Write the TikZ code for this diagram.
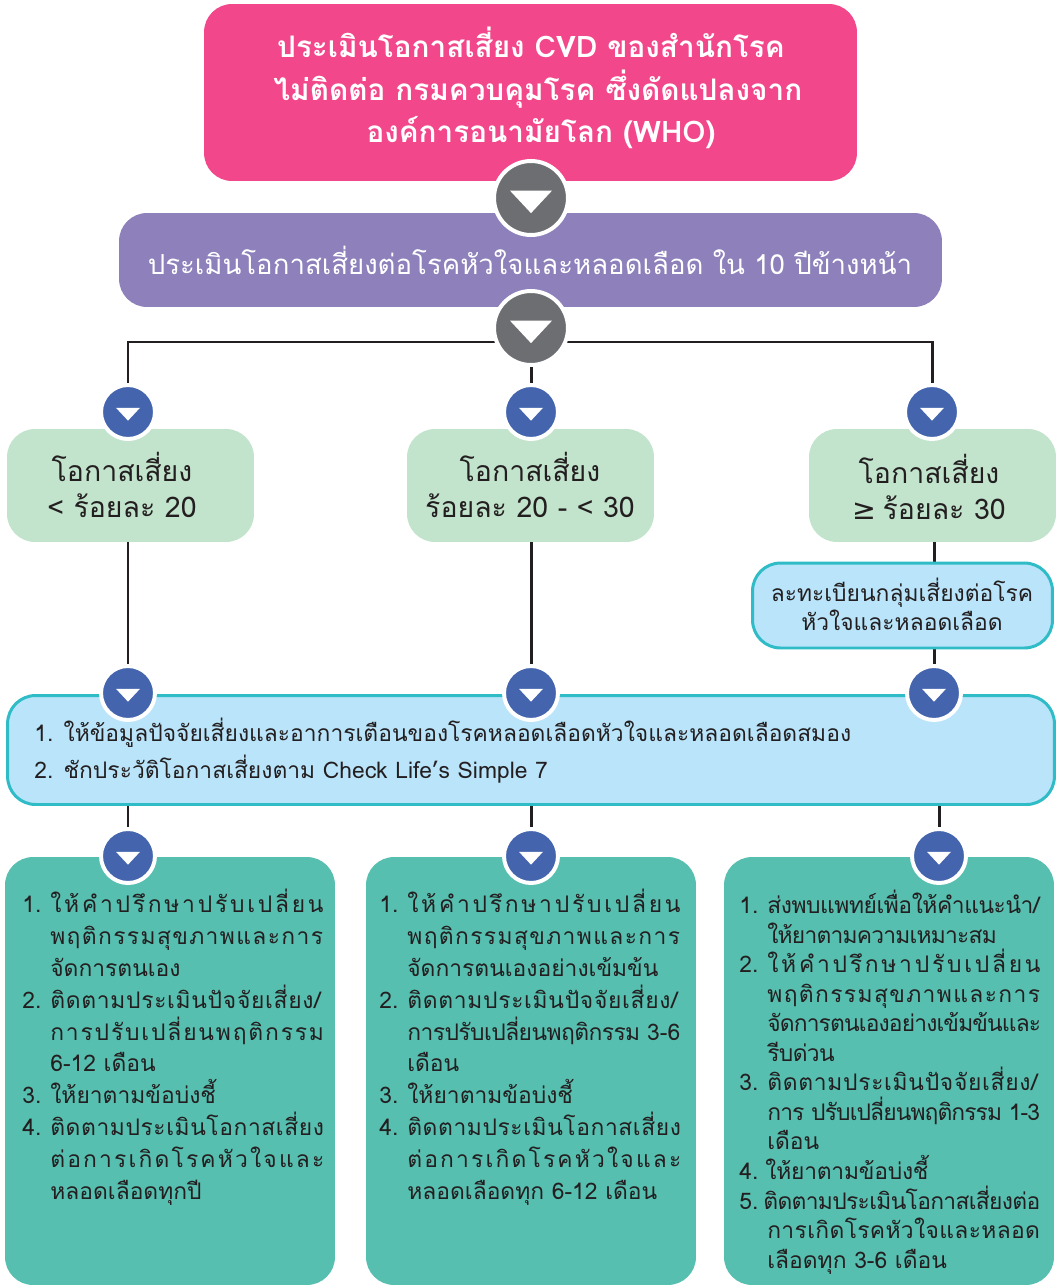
\documentclass[tikz,border=0pt]{standalone}
\usepackage{fontspec}
\setmainfont[Script=Thai]{Loma}
\newfontfamily\symfont{DejaVu Sans}
\usetikzlibrary{backgrounds}
\definecolor{pinkbox}{HTML}{F2478A}
\definecolor{purplebox}{HTML}{8D80BB}
\definecolor{greenbox}{HTML}{C2E3CC}
\definecolor{skybox}{HTML}{B9E4FA}
\definecolor{skyline}{HTML}{2FBCC6}
\definecolor{mintbox}{HTML}{57BFB0}
\definecolor{hubgray}{HTML}{6D6E71}
\definecolor{dotblue}{HTML}{4465AE}
\definecolor{inkdark}{HTML}{231F20}
\newcommand{\spaced}[2]{{\addfontfeature{LetterSpace=#1}#2}}
\newcommand{\numcol}[1]{\makebox[0.56cm][l]{#1}}
\tikzset{
  panel/.style={rectangle, rounded corners=0.56cm, inner sep=0pt},
  downmark/.style={path picture={\fill[white, shift={(path picture bounding box.center)}] (-#1,-0.35*#1) -- (#1,-0.35*#1) -- (0,0.72*#1) -- cycle;}},
  hub/.style={circle, inner sep=0pt, minimum size=1.48cm, fill=hubgray, draw=white, line width=2.27pt, downmark=21},
  dot/.style={circle, inner sep=0pt, minimum size=1.08cm, fill=dotblue, draw=white, line width=2.27pt, downmark=12},
  link/.style={inkdark, line width=1.7pt},
  bodytext/.style={anchor=north west, inner sep=0pt, align=left, text=inkdark, font=\fontsize{13}{18.1}\selectfont},
  headtext/.style={inner sep=0pt, align=center, text=inkdark}
}
\begin{document}
\begin{tikzpicture}[x=0.02cm, y=-0.02cm]
\useasboundingbox (0,0) rectangle (1060,1288);
% top boxes
\node[panel, fill=pinkbox, minimum width=13.06cm, minimum height=3.54cm] (who) at (530.5,92.5) {};
\node[headtext, text=white, font=\fontsize{16.9}{24.2}\selectfont\bfseries] (whotext) at (531,88) {ประเมินโอกาสเสี่ยง CVD ของสำนักโรค\\\hspace*{0.28cm}ไม่ติดต่อ กรมควบคุมโรค ซึ่งดัดแปลงจาก\\\hspace*{0.4cm}องค์การอนามัยโลก (WHO)};
\node[panel, fill=purplebox, minimum width=16.46cm, minimum height=1.88cm] (assess) at (530.5,260) {};
\node[headtext, text=white, font=\fontsize{15.7}{20}\selectfont] (assesstext) at (530,260) {ประเมินโอกาสเสี่ยงต่อโรคหัวใจและหลอดเลือด ใน 10 ปีข้างหน้า};
\node[hub] (hub 1) at (531,198) {};
\node[hub] (hub 2) at (531,328) {};

% risk groups
\node[panel, fill=greenbox, minimum width=4.94cm, minimum height=2.26cm] (low) at (130.5,485.5) {};
\node[panel, fill=greenbox, minimum width=4.94cm, minimum height=2.26cm] (mid) at (530.5,485.5) {};
\node[panel, fill=greenbox, minimum width=4.94cm, minimum height=2.26cm] (high) at (932.5,485.5) {};
\node[headtext, font=\fontsize{16.2}{20.4}\selectfont] (lowtext) at (122,485) {โอกาสเสี่ยง\\< ร้อยละ 20};
\node[headtext, font=\fontsize{16.2}{20.4}\selectfont] (midtext) at (530,485) {โอกาสเสี่ยง\\ร้อยละ 20 - < 30};
\node[headtext, font=\fontsize{16.2}{20.4}\selectfont] (hightext) at (929,487) {โอกาสเสี่ยง\\{\symfont ≥}\hspace{-0.06cm} ร้อยละ 30};

\node[panel, fill=skybox, draw=skyline, line width=1.7pt, minimum width=6cm, minimum height=1.7cm] (register) at (902.5,605.5) {};
\node[headtext, font=\fontsize{13}{16.5}\selectfont] (registertext) at (902,604) {ละทะเบียนกลุ่มเสี่ยงต่อโรค\\หัวใจและหลอดเลือด};

\node[panel, fill=skybox, draw=skyline, line width=1.7pt, minimum width=20.94cm, minimum height=2.18cm] (advice) at (531,750) {};
\node[headtext, anchor=north west, align=left, font=\fontsize{13}{21}\selectfont] (advicetext) at (34,718) {1. ให้ข้อมูลปัจจัยเสี่ยงและอาการเตือนของโรคหลอดเลือดหัวใจและหลอดเลือดสมอง\\2. ชักประวัติโอกาสเสี่ยงตาม Check Life’s Simple 7};

% care boxes
\node[panel, fill=mintbox, minimum width=6.6cm, minimum height=8.56cm] (care low) at (170,1071) {};
\node[panel, fill=mintbox, minimum width=6.6cm, minimum height=8.56cm] (care mid) at (531,1071) {};
\node[panel, fill=mintbox, minimum width=6.6cm, minimum height=8.56cm] (care high) at (889,1071) {};

\node[bodytext] (care low text) at (22,889) {\numcol{1.}\spaced{12}{ให้คำปรึกษาปรับเปลี่ยน}\\
\numcol{}\spaced{6}{พฤติกรรมสุขภาพและการ}\\
\numcol{}จัดการตนเอง\\
\numcol{2.}\spaced{3}{ติดตามประเมินปัจจัยเสี่ยง/}\\
\numcol{}\spaced{8}{การปรับเปลี่ยนพฤติกรรม}\\
\numcol{}6-12 เดือน\\
\numcol{3.}ให้ยาตามข้อบ่งชี้\\
\numcol{4.}\spaced{2.5}{ติดตามประเมินโอกาสเสี่ยง}\\
\numcol{}\spaced{9.5}{ต่อการเกิดโรคหัวใจและ}\\
\numcol{}หลอดเลือดทุกปี};

\node[bodytext] (care mid text) at (379,889) {\numcol{1.}\spaced{12}{ให้คำปรึกษาปรับเปลี่ยน}\\
\numcol{}\spaced{6}{พฤติกรรมสุขภาพและการ}\\
\numcol{}จัดการตนเองอย่างเข้มข้น\\
\numcol{2.}\spaced{3}{ติดตามประเมินปัจจัยเสี่ยง/}\\
\numcol{}\spaced{-2.5}{การปรับเปลี่ยนพฤติกรรม}\hspace{0.14cm}3-6\\
\numcol{}เดือน\\
\numcol{3.}ให้ยาตามข้อบ่งชี้\\
\numcol{4.}\spaced{2.5}{ติดตามประเมินโอกาสเสี่ยง}\\
\numcol{}\spaced{9.5}{ต่อการเกิดโรคหัวใจและ}\\
\numcol{}หลอดเลือดทุก 6-12 เดือน};

\node[bodytext, font=\fontsize{13}{16.8}\selectfont] (care high text) at (739,890) {\numcol{1.}\spaced{-2}{ส่งพบแพทย์เพื่อให้คำแนะนำ/}\\
\numcol{}\spaced{-3.5}{ให้ยาตามความเหมาะสม}\\
\numcol{2.}\spaced{12}{ให้คำปรึกษาปรับเปลี่ยน}\\
\numcol{}\spaced{6}{พฤติกรรมสุขภาพและการ}\\
\numcol{}\spaced{-3.8}{จัดการตนเองอย่างเข้มข้นและ}\\
\numcol{}\spaced{-3}{รีบด่วน}\\
\numcol{3.}\spaced{3}{ติดตามประเมินปัจจัยเสี่ยง/}\\
\numcol{}\spaced{-4}{การ ปรับเปลี่ยนพฤติกรรม 1-3}\\
\numcol{}เดือน\\
\numcol{4.}\hspace{-0.04cm}\spaced{-1}{ให้ยาตามข้อบ่งชี้}\\
\numcol{5.}\hspace{-0.08cm}\spaced{-3}{ติดตามประเมินโอกาสเสี่ยงต่อ}\\
\numcol{}\spaced{1.5}{การเกิดโรคหัวใจและหลอด}\\
\numcol{}เลือดทุก 3-6 เดือน};

% round markers
\node[dot] (dot 1) at (128,412) {};
\node[dot] (dot 2) at (531,412) {};
\node[dot] (dot 3) at (932,412) {};
\node[dot] (dot 4) at (128,693) {};
\node[dot] (dot 5) at (531,693) {};
\node[dot] (dot 6) at (934,693) {};
\node[dot] (dot 7) at (128,856) {};
\node[dot] (dot 8) at (531,856) {};
\node[dot] (dot 9) at (939,856) {};

\coordinate (fork) at (531,342);
\begin{scope}[on background layer]
\draw[link] (dot 1) |- (fork) -| (dot 3);
\draw[link] (hub 2) -- (dot 2);
\draw[link] (low.south -| dot 4) -- (dot 4);
\draw[link] (mid.south -| dot 5) -- (dot 5);
\draw[link] (high.south -| dot 6) -- (register.north -| dot 6);
\draw[link] (register.south -| dot 6) -- (dot 6);
\draw[link] (advice.south -| dot 7) -- (dot 7);
\draw[link] (advice.south -| dot 8) -- (dot 8);
\draw[link] (advice.south -| dot 9) -- (dot 9);
\end{scope}
\end{tikzpicture}
\end{document}
